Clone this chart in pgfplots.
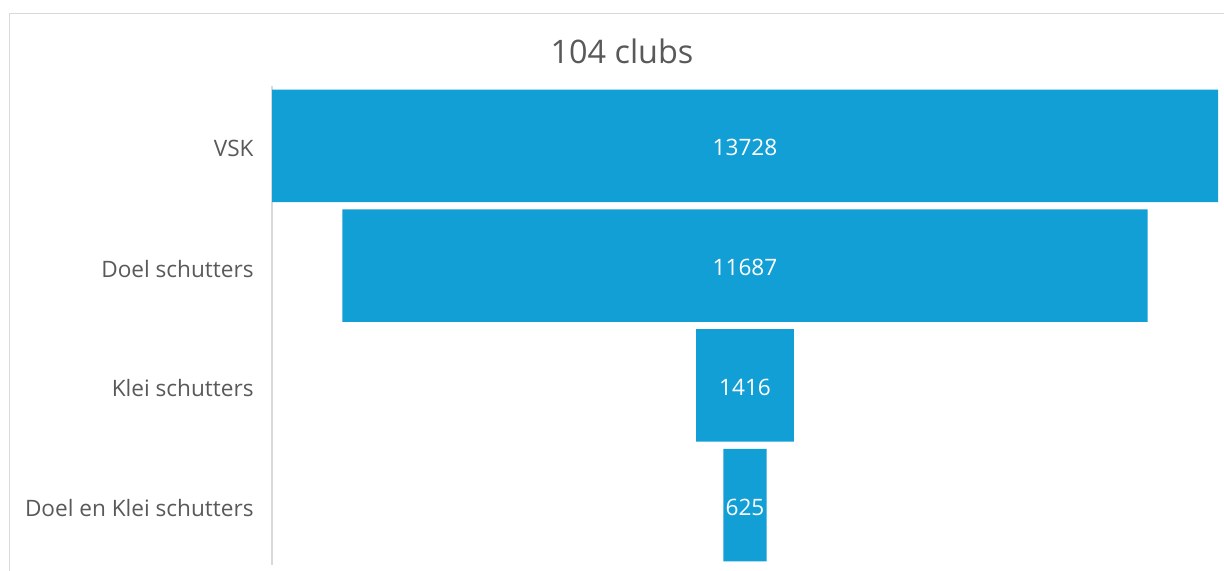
\documentclass[border=0pt]{standalone}
\usepackage{pgfplots}
\pgfplotsset{compat=1.18}
\usepackage{pgfplotstable}
\usepackage{fontspec}
\setmainfont{Open Sans}
\definecolor{barblue}{RGB}{18,159,214}
\definecolor{lblgray}{RGB}{89,89,89}
\definecolor{linegray}{RGB}{217,217,217}

\pgfplotstableread{
idx offset value mid
0 0 13728 6864
1 1020.5 11687 6864
2 6156 1416 6864
3 6551.5 625 6864
}\funnel

\begin{document}
\begin{tikzpicture}
\useasboundingbox (0,0) rectangle (612pt,-285.5pt);
\draw[linegray, line width=0.6pt] (4.75pt,-6.75pt) rectangle (640pt,-320pt);
\node[lblgray, font=\fontsize{16.2}{19}\selectfont] at (311pt,-25.5pt) {104 clubs};
\pgfplotsset{
  funnelaxis/.style={
    at={(136pt,-43pt)}, anchor=north west,
    scale only axis, width=473pt, height=239.5pt,
    xmin=0, xmax=13728, ymin=-0.5, ymax=3.5, y dir=reverse,
  }
}
\begin{axis}[funnelaxis,
  xbar stacked, bar width=56.25pt,
  axis x line=none, axis y line*=left,
  axis line style={linegray, line width=1pt},
  ytick={0,1,2,3},
  yticklabels={VSK, Doel schutters, Klei schutters, Doel en Klei schutters},
  major tick length=0pt,
  yticklabel style={lblgray, font=\fontsize{11.3}{14}\selectfont, inner sep=0pt, xshift=-9pt, yshift=-1.5pt},
]
\addplot[draw=none, fill=none] table[x=offset, y=idx]{\funnel};
\addplot[draw=none, fill=barblue] table[x=value, y=idx]{\funnel};
\end{axis}
\begin{axis}[funnelaxis, hide axis]
\addplot[draw=none, mark=none, nodes near coords, point meta=explicit symbolic,
  every node near coord/.append style={white, anchor=center, yshift=-1pt, font=\fontsize{11.3}{14}\selectfont}]
  table[x=mid, y=idx, meta=value]{\funnel};
\end{axis}
\end{tikzpicture}
\end{document}
